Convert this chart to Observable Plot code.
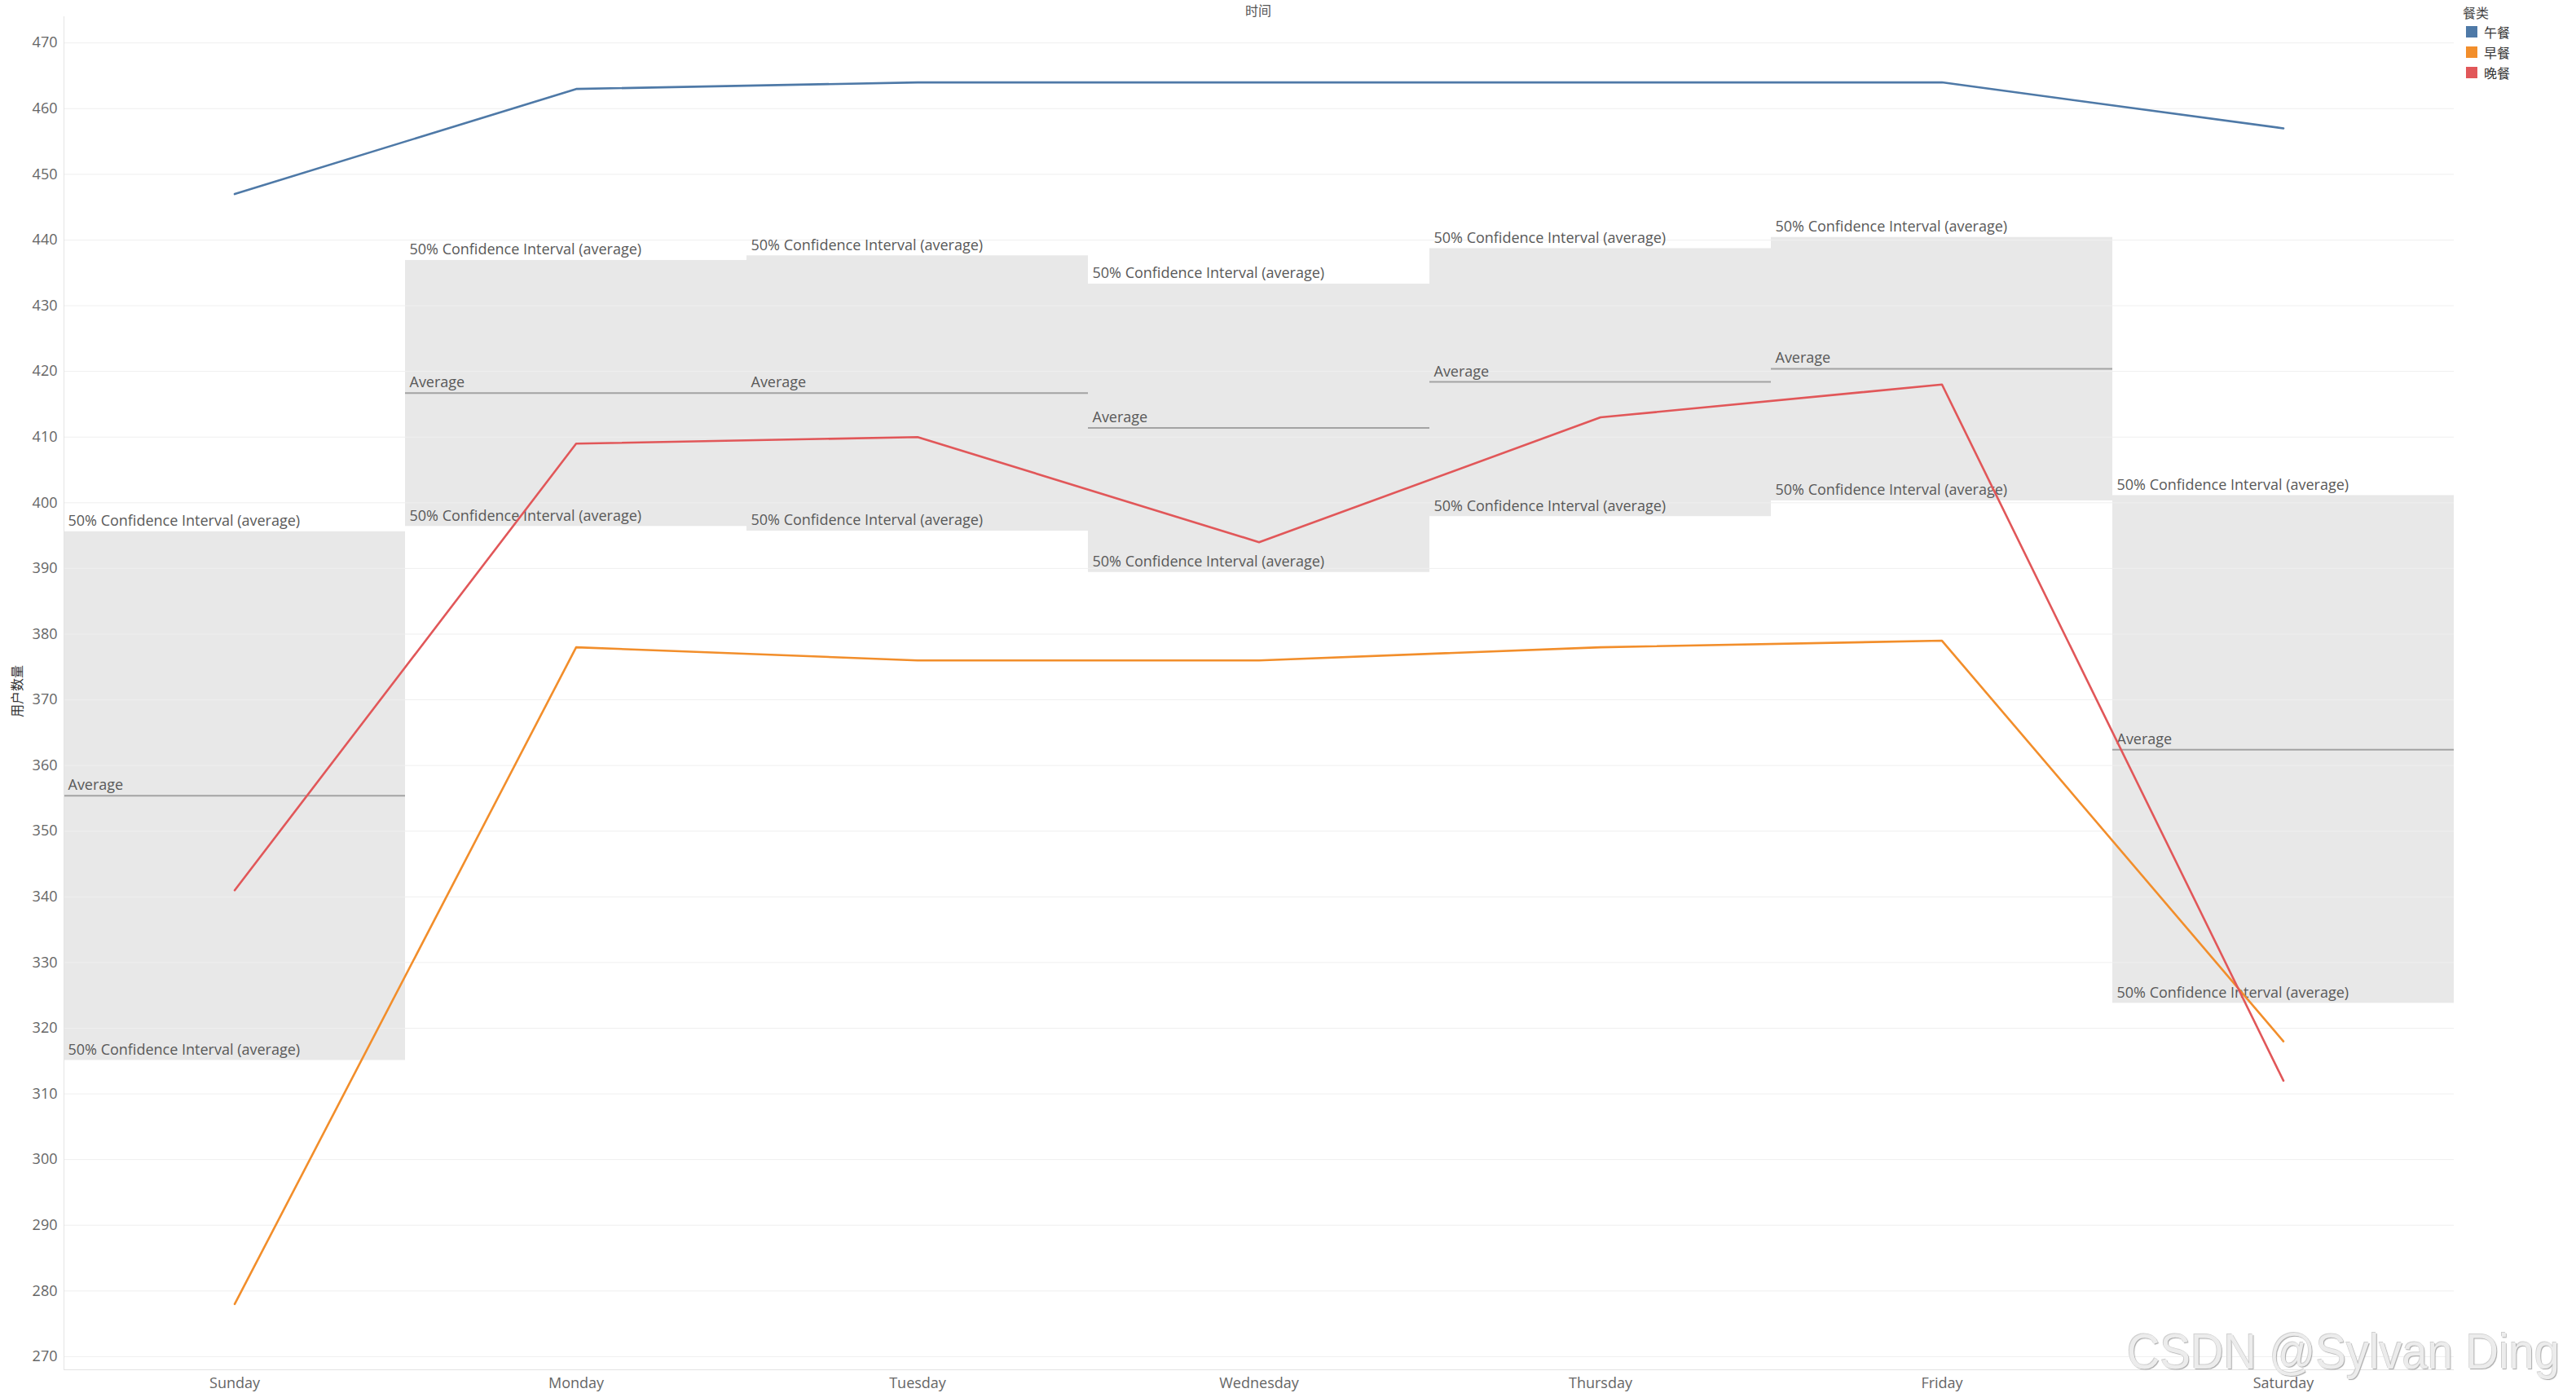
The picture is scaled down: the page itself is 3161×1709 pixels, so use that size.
<!DOCTYPE html>
<html><head><meta charset="utf-8">
<script src="https://cdn.jsdelivr.net/npm/d3@7"></script>
<script src="https://cdn.jsdelivr.net/npm/@observablehq/plot@0.6"></script>
<style>
html,body{margin:0;padding:0;background:#fff;}
#wrap{position:relative;width:3161px;height:1709px;overflow:hidden;font-family:"Open Sans","Noto Sans CJK SC",sans-serif;}
#chart{position:absolute;left:0;top:0;}
.title{position:absolute;left:1544px;top:2px;transform:translateX(-50%);font-family:"Noto Sans CJK SC",sans-serif;font-size:16px;color:#555;line-height:20px;}
.ytitle{position:absolute;left:20px;top:848px;transform:translate(-50%,-50%) rotate(-90deg);font-family:"Noto Sans CJK SC",sans-serif;font-size:16px;color:#333;white-space:nowrap;}
.legend{position:absolute;left:3022px;top:4px;font-family:"Noto Sans CJK SC",sans-serif;font-size:16px;color:#333;}
.legend .lt{line-height:22px;color:#444;}
.legend .it{display:flex;align-items:center;height:25px;}
.legend .sw{width:14px;height:14px;margin:0 8px 0 4px;}
.wm{position:absolute;left:2610px;top:1622px;font-family:"Liberation Sans",Arial,sans-serif;font-size:61px;color:#ececec;text-shadow:1px 1px 1px #a8a8a8,-1px -1px 0 #d0d0d0;white-space:nowrap;line-height:72px;transform:scaleX(0.92);transform-origin:0 0;}
</style></head>
<body>
<div id="wrap"><div id="chart"></div></div>
<script>
const days = ["Sunday","Monday","Tuesday","Wednesday","Thursday","Friday","Saturday"];
const meals = ["午餐","早餐","晚餐"];
const mealColors = ["#4e79a7","#f28e2b","#e15759"];
const lunch = [447,463,464,464,464,464,457];
const breakfast = [278,378,376,376,378,379,318];
const dinner = [341,409,410,394,413,418,312];
const avgValues = [355.4,416.7,416.7,411.4,418.4,420.4,362.4];
const ciLow = [315.1,396.4,395.7,389.4,397.9,400.3,323.8];
const ciHigh = [395.6,436.9,437.6,433.3,438.7,440.4,401.1];
const yTicks = [270,280,290,300,310,320,330,340,350,360,370,380,390,400,410,420,430,440,450,460,470];
const ciText = "50% Confidence Interval (average)";
const avgText = "Average";
const titleText = "时间";
const yTitleText = "用户数量";
const legendTitle = "餐类";
const watermark = "CSDN @Sylvan Ding";

const W = 3161, H = 1709, mL = 78, mR = 150, mT = 20, mB = 29;
const bw = (W - mL - mR) / days.length;

const rows = days.map((d, i) => ({day: d, avg: avgValues[i], lo: ciLow[i], hi: ciHigh[i]}));
const series = [lunch, breakfast, dinner];
const points = meals.flatMap((m, j) => days.map((d, i) => ({meal: m, day: d, value: series[j][i]})));
const labels = rows.flatMap(r => [
  {day: r.day, y: r.hi, text: ciText},
  {day: r.day, y: r.avg, text: avgText},
  {day: r.day, y: r.lo, text: ciText}
]);

const chart = Plot.plot({
  width: W, height: H,
  marginLeft: mL, marginRight: mR, marginTop: mT, marginBottom: mB,
  style: {fontFamily: "'Open Sans', sans-serif", fontSize: "18px", color: "#666", background: "#fff", overflow: "visible"},
  x: {type: "band", domain: days, padding: 0, label: null},
  y: {domain: [268, 474], label: null},
  color: {domain: meals, range: mealColors},
  marks: [
    Plot.barY(rows, {x: "day", y1: "lo", y2: "hi", fill: "#e8e8e8"}),
    Plot.ruleY(yTicks, {stroke: "#efefef", strokeWidth: 1}),
    Plot.tickY(rows, {x: "day", y: "avg", stroke: "#a3a3a3", strokeWidth: 2}),
    Plot.text(labels, {x: "day", y: "y", text: "text", textAnchor: "start", lineAnchor: "bottom",
      dx: -bw / 2 + 5, dy: -7, fill: "#595959", ariaLabel: "ref-label"}),
    Plot.line(points, {x: "day", y: "value", z: "meal", stroke: "meal", strokeWidth: 2.6}),
    Plot.axisY(yTicks, {tickSize: 0, tickPadding: 8, label: null, fill: "#666"}),
    Plot.axisX({tickSize: 0, tickPadding: 10, label: null, fill: "#666"}),
    Plot.ruleY([268], {stroke: "#e4e4e4"}),
    Plot.frame({anchor: "left", stroke: "#e4e4e4"})
  ]
});
document.getElementById("chart").appendChild(chart);

// translucent backgrounds behind the reference-line labels
const ns = "http://www.w3.org/2000/svg";
chart.querySelectorAll('g[aria-label="ref-label"] text').forEach(t => {
  const b = t.getBBox();
  const r = document.createElementNS(ns, "rect");
  r.setAttribute("x", b.x - 5);
  r.setAttribute("y", b.y - 2);
  r.setAttribute("width", b.width + 10);
  r.setAttribute("height", b.height + 6);
  r.setAttribute("fill", "#fff");
  r.setAttribute("fill-opacity", 0.55);
  const tr = t.getAttribute("transform");
  if (tr) r.setAttribute("transform", tr);
  t.parentNode.insertBefore(r, t);
});

const wrap = document.getElementById("wrap");
const addDiv = (cls, txt) => { const d = document.createElement("div"); d.className = cls; if (txt) d.textContent = txt; wrap.appendChild(d); return d; };
addDiv("title", titleText);
addDiv("ytitle", yTitleText);
const lg = addDiv("legend");
const lt = document.createElement("div"); lt.className = "lt"; lt.textContent = legendTitle; lg.appendChild(lt);
meals.forEach((m, i) => {
  const it = document.createElement("div"); it.className = "it";
  const sw = document.createElement("div"); sw.className = "sw"; sw.style.background = mealColors[i];
  const tx = document.createElement("span"); tx.textContent = m;
  it.appendChild(sw); it.appendChild(tx); lg.appendChild(it);
});
addDiv("wm", watermark);
</script>
</body></html>
